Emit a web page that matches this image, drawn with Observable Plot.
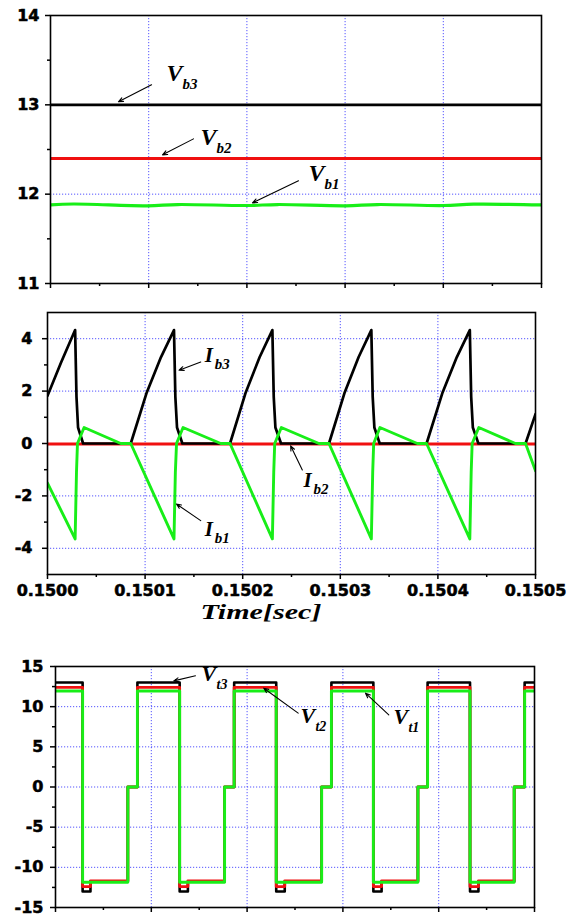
<!DOCTYPE html>
<html><head><meta charset="utf-8">
<script src="https://cdn.jsdelivr.net/npm/d3@7"></script>
<script src="https://cdn.jsdelivr.net/npm/@observablehq/plot@0.6"></script>
<style>
body{margin:0;background:#fff;}
#chart{width:581px;}
#chart svg{display:block;}
#chart g[aria-label="x-axis tick label"] text,
#chart g[aria-label="y-axis tick label"] text{stroke:#000;stroke-width:0.55px;}
</style></head><body><div id="chart"></div>
<script>
// ---------- axis ticks ----------
const xMajor = [0.1500, 0.1501, 0.1502, 0.1503, 0.1504, 0.1505];
const xMinor = [0.15005, 0.15015, 0.15025, 0.15035, 0.15045];
const xGrid = [0.1501, 0.1502, 0.1503, 0.1504];
const y1Major = [11, 12, 13, 14], y1Minor = [11.5, 12.5, 13.5], y1Grid = [12, 13];
const y2Major = [-4, -2, 0, 2, 4], y2Minor = [-3, -1, 1, 3], y2Grid = [-4, -2, 0, 2, 4];
const y3Major = [-15, -10, -5, 0, 5, 10, 15], y3Minor = [-12.5, -7.5, -2.5, 2.5, 7.5, 12.5], y3Grid = [-10, -5, 0, 5, 10];
const xTitle = "Time[sec]";

// ---------- panel 1 : battery voltages ----------
const vb3T = [0.1500, 0.1505], vb3V = [13.0, 13.0];
const vb2T = [0.1500, 0.1505], vb2V = [12.4, 12.4];
const vb1T = [0.1500, 0.1500234, 0.1500988, 0.1501293, 0.1502006, 0.1502312, 0.1503004, 0.150333, 0.1504002, 0.1504308, 0.1505];
const vb1V = [11.88, 11.89, 11.87, 11.884, 11.873, 11.884, 11.87, 11.884, 11.873, 11.888, 11.88];

// ---------- panel 2 : battery currents ----------
const ib3T = [0.1500000, 0.1500140, 0.1500283, 0.1500297, 0.1500313, 0.1500365, 0.1500853,
  0.1501017, 0.1501163, 0.1501296, 0.1501310, 0.1501327, 0.1501382, 0.1501870,
  0.1502031, 0.1502174, 0.1502304, 0.1502318, 0.1502335, 0.1502393, 0.1502884,
  0.1503045, 0.1503188, 0.1503318, 0.1503332, 0.1503349, 0.1503404, 0.1503884,
  0.1504048, 0.1504194, 0.1504327, 0.1504341, 0.1504358, 0.1504415, 0.1504898, 0.1505000];
const ib3V = [1.82, 3.1, 4.33, 1.78, 0.61, 0, 0,
  1.95, 3.3, 4.33, 1.78, 0.61, 0, 0,
  1.95, 3.3, 4.33, 1.78, 0.61, 0, 0,
  1.95, 3.3, 4.33, 1.78, 0.61, 0, 0,
  1.95, 3.3, 4.33, 1.78, 0.61, 0, 0, 1.12];
const ib1T = [0.1500000, 0.1500283, 0.1500297, 0.1500307, 0.1500375, 0.1500751, 0.1500853,
  0.1501296, 0.1501310, 0.1501322, 0.1501389, 0.1501775, 0.1501870,
  0.1502304, 0.1502318, 0.1502328, 0.1502396, 0.1502781, 0.1502884,
  0.1503318, 0.1503332, 0.1503342, 0.1503406, 0.1503789, 0.1503884,
  0.1504327, 0.1504341, 0.1504351, 0.1504419, 0.1504795, 0.1504898, 0.1505000];
const ib1V = [-1.51, -3.64, -1.1, 0, 0.61, 0, 0,
  -3.64, -1.1, 0, 0.61, 0, 0,
  -3.64, -1.1, 0, 0.61, 0, 0,
  -3.64, -1.1, 0, 0.61, 0, 0,
  -3.64, -1.1, 0, 0.61, 0, 0, -1.04];
const ib2T = [0.1500, 0.1505], ib2V = [-0.02, -0.02];

// ---------- panel 3 : terminal voltages (step breakpoints) ----------
const vtT = [0.1500000, 0.1500283, 0.1500365, 0.1500755, 0.1500855,
  0.1501296, 0.1501382, 0.1501765, 0.1501865,
  0.1502304, 0.1502393, 0.1502778, 0.1502880,
  0.1503318, 0.1503404, 0.1503783, 0.1503884,
  0.1504327, 0.1504415, 0.1504788, 0.1504897, 0.1505000];
const vt3V = [13, -13, -11.75, 0, 13, -13, -11.75, 0, 13, -13, -11.75, 0, 13, -13, -11.75, 0, 13, -13, -11.75, 0, 13, 13];
const vt2V = [12.4, -12.4, -11.7, 0, 12.4, -12.4, -11.7, 0, 12.4, -12.4, -11.7, 0, 12.4, -12.4, -11.7, 0, 12.4, -12.4, -11.7, 0, 12.4, 12.4];
const vt1V = [11.95, -11.86, -11.86, 0, 11.95, -11.86, -11.86, 0, 11.95, -11.86, -11.86, 0, 11.95, -11.86, -11.86, 0, 11.95, -11.86, -11.86, 0, 11.95, 11.95];

// ---------- annotations (data units) ----------
const p1Labels = [
  {t: 0.1501181, v: 13.269, main: "V", sub: "b3"},
  {t: 0.1501527, v: 12.552, main: "V", sub: "b2"},
  {t: 0.1502627, v: 12.149, main: "V", sub: "b1"}];
const p1Arrows = [
  {t1: 0.1501029, v1: 13.224, t2: 0.1500692, v2: 13.034},
  {t1: 0.1501456, v1: 12.619, t2: 0.1501141, v2: 12.440},
  {t1: 0.1502525, v1: 12.149, t2: 0.1502057, v2: 11.903}];
const p2Labels = [
  {t: 0.1501611, v: 3.112, main: "I", sub: "b3"},
  {t: 0.1501611, v: -3.516, main: "I", sub: "b1"},
  {t: 0.1502624, v: -1.650, main: "I", sub: "b2"}];
const p2Arrows = [
  {t1: 0.1501570, v1: 3.112, t2: 0.1501348, v2: 2.796},
  {t1: 0.1501570, v1: -2.945, t2: 0.1501321, v2: -2.309},
  {t1: 0.1502611, v1: -1.013, t2: 0.1502491, v2: -0.088}];
const p3Labels = [
  {t: 0.1501524, v: 13.18, main: "V", sub: "t3"},
  {t: 0.1502557, v: 7.95, main: "V", sub: "t2"},
  {t: 0.1503528, v: 7.82, main: "V", sub: "t1"}];
const p3Arrows = [
  {t1: 0.1501461, v1: 13.84, t2: 0.1501235, v2: 13.21},
  {t1: 0.1502533, v1: 9.19, t2: 0.1502174, v2: 12.30},
  {t1: 0.1503479, v1: 8.98, t2: 0.1503236, v2: 11.68}];

const BLACK = "#000000", RED = "#f01010", GREEN = "#18ee18";
const zip = (T, V) => T.map((t, i) => ({t, v: V[i]}));

const gridStyle = {stroke: "#2a2aff", strokeOpacity: 0.8, strokeDasharray: "1.2,1.8", strokeWidth: 1};
const serif = {fontFamily: "Liberation Serif", fontWeight: "bold", fontStyle: "italic", fill: "black"};

function labelMarks(labels, arrows, mainSize, subSize, sdx, sdy) {
  return [
    Plot.arrow(arrows, {x1: "t1", y1: "v1", x2: "t2", y2: "v2", stroke: "black", strokeWidth: 1.1, headLength: 7, headAngle: 45}),
    Plot.text(labels, {x: "t", y: "v", text: "main", textAnchor: "start", lineAnchor: "bottom", fontSize: mainSize, ...serif}),
    Plot.text(labels, {x: "t", y: "v", text: "sub", textAnchor: "start", lineAnchor: "bottom", dx: sdx, dy: sdy, fontSize: subSize, ...serif})
  ];
}

function panel({height, mt, mb, ml, mr, yDomain, yMajor, yMinor, yGrid, xLabels, yPad, marks}) {
  return Plot.plot({
    width: 581, height, marginTop: mt, marginBottom: mb, marginLeft: ml, marginRight: mr,
    style: {background: "white", overflow: "visible", fontFamily: "DejaVu Sans", fontWeight: "bold", fontSize: "16px", color: "black"},
    x: {domain: [0.15, 0.1505]},
    y: {domain: yDomain},
    marks: [
      Plot.gridX(xGrid, gridStyle),
      Plot.gridY(yGrid, gridStyle),
      ...marks,
      Plot.frame({stroke: "black", strokeWidth: 1.6}),
      Plot.axisX(xMajor, {anchor: "bottom", tickSize: 5, tickPadding: 5, strokeWidth: 1.5, label: null,
        tickFormat: xLabels ? (d => d.toFixed(4)) : (() => "")}),
      Plot.axisX(xMinor, {anchor: "bottom", tickSize: 3, strokeWidth: 1.5, label: null, tickFormat: () => ""}),
      Plot.axisY(yMajor, {anchor: "left", tickSize: 5, tickPadding: yPad, strokeWidth: 1.5, label: null,
        tickFormat: d => String(d)}),
      Plot.axisY(yMinor, {anchor: "left", tickSize: 3, strokeWidth: 1.5, label: null, tickFormat: () => ""})
    ]
  });
}

const lineOpts = (color, w, extra = {}) => ({x: "t", y: "v", stroke: color, strokeWidth: w, clip: true, ...extra});

const chart = document.getElementById("chart");

chart.append(panel({
  height: 300, mt: 15, mb: 17, ml: 50, mr: 40, yDomain: [11, 14],
  yMajor: y1Major, yMinor: y1Minor, yGrid: y1Grid, xLabels: false, yPad: 6,
  marks: [
    Plot.line(zip(vb3T, vb3V), lineOpts(BLACK, 2.7)),
    Plot.line(zip(vb2T, vb2V), lineOpts(RED, 3)),
    Plot.line(zip(vb1T, vb1V), lineOpts(GREEN, 3.2, {curve: "catmull-rom"})),
    ...labelMarks(p1Labels, p1Arrows, 24, 15, 16, 8)
  ]
}));

const p2 = panel({
  height: 340, mt: 12, mb: 66, ml: 47, mr: 46, yDomain: [-5, 5],
  yMajor: y2Major, yMinor: y2Minor, yGrid: y2Grid, xLabels: true, yPad: 10,
  marks: [
    Plot.line(zip(ib2T, ib2V), lineOpts(RED, 2.8)),
    Plot.line(zip(ib3T, ib3V), lineOpts(BLACK, 2.7)),
    Plot.line(zip(ib1T, ib1V), lineOpts(GREEN, 2.9)),
    ...labelMarks(p2Labels, p2Arrows, 21, 15, 10, 7),
    Plot.text([xTitle], {frameAnchor: "bottom-left", dx: 153, dy: 44, textAnchor: "start", lineAnchor: "bottom",
      fontSize: 22, ...serif})
  ]
});
chart.append(p2);
d3.select(p2).selectAll("text").filter(function () { return this.textContent === xTitle; })
  .attr("textLength", 121).attr("lengthAdjust", "spacingAndGlyphs");

chart.append(panel({
  height: 274, mt: 26, mb: 7, ml: 55, mr: 47, yDomain: [-15, 15],
  yMajor: y3Major, yMinor: y3Minor, yGrid: y3Grid, xLabels: false, yPad: 7,
  marks: [
    Plot.line(zip(vtT, vt3V), lineOpts(BLACK, 2.6, {curve: "step-after"})),
    Plot.line(zip(vtT, vt2V), lineOpts(RED, 2.8, {curve: "step-after"})),
    Plot.line(zip(vtT, vt1V), lineOpts(GREEN, 2.9, {curve: "step-after"})),
    ...labelMarks(p3Labels, p3Arrows, 22, 14, 15, 8)
  ]
}));
</script></body></html>
